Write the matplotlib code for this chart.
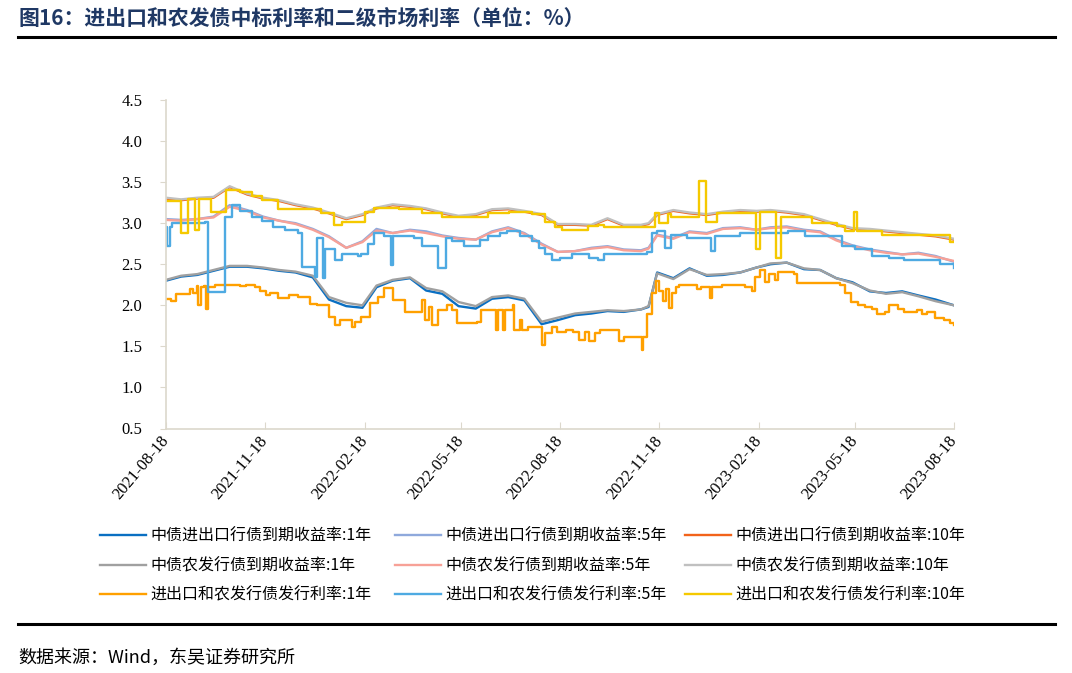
import matplotlib
matplotlib.use('Agg')
import matplotlib.pyplot as plt
import matplotlib.dates as mdates
from matplotlib.lines import Line2D
import pandas as pd

# 二级市场收益率（半月取点）
dates_mkt = ['2021-08-18', '2021-09-01', '2021-09-16', '2021-10-01', '2021-10-16', '2021-11-01',
             '2021-11-16', '2021-12-01', '2021-12-16', '2022-01-01', '2022-01-16', '2022-02-01',
             '2022-02-16', '2022-03-01', '2022-03-16', '2022-04-01', '2022-04-16', '2022-05-01',
             '2022-05-16', '2022-06-01', '2022-06-16', '2022-07-01', '2022-07-16', '2022-08-01',
             '2022-08-16', '2022-09-01', '2022-09-16', '2022-10-01', '2022-10-16', '2022-11-01',
             '2022-11-08', '2022-11-16', '2022-12-01', '2022-12-16', '2023-01-01', '2023-01-16',
             '2023-02-01', '2023-02-16', '2023-03-01', '2023-03-16', '2023-04-01', '2023-04-16',
             '2023-05-01', '2023-05-16', '2023-06-01', '2023-06-16', '2023-07-01', '2023-07-16',
             '2023-08-01', '2023-08-18']

exim_1y = [2.30, 2.35, 2.37, 2.42, 2.47, 2.47, 2.45, 2.42, 2.40, 2.34, 2.07, 1.99, 1.97, 2.22, 2.30,
           2.33, 2.18, 2.14, 1.99, 1.96, 2.08, 2.10, 2.06, 1.77, 1.82, 1.88, 1.90, 1.93, 1.92, 1.95,
           1.98, 2.40, 2.33, 2.45, 2.36, 2.37, 2.40, 2.46, 2.50, 2.52, 2.44, 2.43, 2.33, 2.28, 2.17,
           2.15, 2.17, 2.12, 2.07, 2.00]
exim_5y = [3.05, 3.04, 3.05, 3.08, 3.22, 3.16, 3.08, 3.03, 3.00, 2.93, 2.84, 2.70, 2.78, 2.93, 2.88,
           2.92, 2.90, 2.85, 2.82, 2.80, 2.90, 2.95, 2.88, 2.75, 2.65, 2.66, 2.70, 2.72, 2.68, 2.67,
           2.70, 2.86, 2.82, 2.90, 2.88, 2.94, 2.95, 2.92, 2.95, 2.96, 2.92, 2.90, 2.80, 2.73, 2.68,
           2.65, 2.62, 2.64, 2.60, 2.53]
exim_10y = [3.30, 3.28, 3.30, 3.31, 3.44, 3.35, 3.30, 3.27, 3.22, 3.18, 3.12, 3.05, 3.10, 3.18, 3.22,
            3.20, 3.17, 3.12, 3.08, 3.10, 3.16, 3.17, 3.14, 3.10, 2.98, 2.98, 2.97, 3.05, 2.97, 2.97,
            2.99, 3.10, 3.15, 3.12, 3.10, 3.13, 3.15, 3.14, 3.15, 3.13, 3.10, 3.04, 2.98, 2.93, 2.92,
            2.90, 2.88, 2.86, 2.84, 2.80]
adbc_1y = [2.31, 2.36, 2.38, 2.43, 2.48, 2.48, 2.46, 2.43, 2.41, 2.36, 2.10, 2.03, 2.00, 2.24, 2.31,
           2.34, 2.21, 2.17, 2.04, 1.99, 2.10, 2.12, 2.08, 1.80, 1.85, 1.90, 1.92, 1.94, 1.93, 1.95,
           1.99, 2.39, 2.32, 2.44, 2.37, 2.38, 2.40, 2.46, 2.51, 2.52, 2.45, 2.43, 2.33, 2.27, 2.18,
           2.14, 2.16, 2.11, 2.05, 2.00]
adbc_5y = [3.04, 3.03, 3.05, 3.07, 3.20, 3.15, 3.07, 3.03, 2.99, 2.92, 2.83, 2.70, 2.77, 2.91, 2.88,
           2.91, 2.88, 2.84, 2.81, 2.80, 2.89, 2.94, 2.87, 2.74, 2.65, 2.66, 2.69, 2.71, 2.67, 2.66,
           2.69, 2.85, 2.81, 2.89, 2.87, 2.93, 2.94, 2.92, 2.94, 2.95, 2.91, 2.89, 2.79, 2.72, 2.67,
           2.64, 2.62, 2.63, 2.59, 2.54]
adbc_10y = [3.31, 3.29, 3.31, 3.32, 3.45, 3.36, 3.31, 3.28, 3.23, 3.19, 3.13, 3.06, 3.11, 3.19, 3.23,
            3.21, 3.18, 3.13, 3.09, 3.11, 3.17, 3.18, 3.15, 3.11, 2.99, 2.99, 2.98, 3.06, 2.98, 2.98,
            3.00, 3.11, 3.16, 3.13, 3.11, 3.14, 3.16, 3.15, 3.16, 3.14, 3.11, 3.05, 2.99, 2.94, 2.93,
            2.91, 2.89, 2.87, 2.85, 2.81]

# 发行利率（阶梯）
dates_iss1 = ['2021-08-18', '2021-08-23', '2021-08-27', '2021-09-09', '2021-09-12', '2021-09-16',
              '2021-09-17', '2021-09-19', '2021-09-22', '2021-09-24', '2021-09-26', '2021-10-02',
              '2021-10-26', '2021-10-31', '2021-11-08', '2021-11-13', '2021-11-19', '2021-11-22',
              '2021-11-30', '2021-12-10', '2021-12-18', '2021-12-29', '2022-01-05', '2022-01-16',
              '2022-01-22', '2022-01-26', '2022-02-06', '2022-02-09', '2022-02-15', '2022-02-23',
              '2022-03-02', '2022-03-08', '2022-03-16', '2022-03-27', '2022-04-12', '2022-04-15',
              '2022-04-19', '2022-04-21', '2022-04-27', '2022-05-05', '2022-05-10', '2022-05-15',
              '2022-06-02', '2022-06-06', '2022-06-20', '2022-06-22', '2022-06-26', '2022-06-28',
              '2022-07-05', '2022-07-06', '2022-07-12', '2022-07-14', '2022-07-19', '2022-08-01',
              '2022-08-04', '2022-08-11', '2022-08-15', '2022-08-24', '2022-08-30', '2022-09-05',
              '2022-09-10', '2022-09-14', '2022-09-19', '2022-09-24', '2022-10-12', '2022-10-16',
              '2022-11-02', '2022-11-03', '2022-11-07', '2022-11-11', '2022-11-15', '2022-11-18',
              '2022-11-21', '2022-11-24', '2022-11-27', '2022-11-30', '2022-12-03', '2022-12-06',
              '2022-12-23', '2022-12-27', '2023-01-04', '2023-01-06', '2023-01-15', '2023-02-05',
              '2023-02-12', '2023-02-15', '2023-02-19', '2023-02-24', '2023-02-28', '2023-03-05',
              '2023-03-08', '2023-03-23', '2023-03-26', '2023-05-04', '2023-05-09', '2023-05-15',
              '2023-05-21', '2023-05-28', '2023-06-03', '2023-06-08', '2023-06-15', '2023-06-19',
              '2023-06-27', '2023-07-03', '2023-07-15', '2023-07-19', '2023-07-24', '2023-07-31',
              '2023-08-09', '2023-08-14', '2023-08-18']
iss_1y = [2.08, 2.05, 2.14, 2.20, 2.15, 2.24,
          2.00, 2.22, 2.24, 1.95, 2.22, 2.25,
          2.23, 2.25, 2.22, 2.17, 2.13, 2.15,
          2.09, 2.12, 2.10, 2.02, 2.00, 1.86,
          1.76, 1.82, 1.74, 1.80, 1.86, 2.03,
          2.10, 2.21, 2.06, 1.92, 2.06, 1.82,
          1.98, 1.76, 1.94, 2.00, 1.94, 1.78,
          1.80, 1.94, 1.70, 1.94, 1.70, 1.94,
          2.00, 1.70, 1.82, 1.70, 1.74, 1.52,
          1.66, 1.74, 1.67, 1.70, 1.67, 1.58,
          1.67, 1.56, 1.66, 1.70, 1.56, 1.62,
          1.45, 1.62, 1.90, 2.15, 2.30, 2.18,
          2.05, 2.20, 1.97, 2.15, 2.22, 2.25,
          2.20, 2.22, 2.09, 2.22, 2.25, 2.22,
          2.17, 2.35, 2.43, 2.28, 2.38, 2.31,
          2.41, 2.38, 2.27, 2.25, 2.15, 2.04,
          2.00, 1.98, 1.95, 1.90, 1.92, 2.00,
          1.96, 1.92, 1.94, 1.90, 1.92, 1.84,
          1.82, 1.78, 1.76]

dates_iss5 = ['2021-08-18', '2021-08-19', '2021-08-22', '2021-08-24', '2021-09-23', '2021-09-26',
              '2021-10-10', '2021-10-12', '2021-10-18', '2021-10-26', '2021-11-06', '2021-11-15',
              '2021-11-25', '2021-12-06', '2021-12-18', '2021-12-22', '2022-01-03', '2022-01-05',
              '2022-01-10', '2022-01-12', '2022-01-22', '2022-01-28', '2022-02-12', '2022-02-15',
              '2022-02-21', '2022-02-27', '2022-03-08', '2022-03-14', '2022-03-16', '2022-04-05',
              '2022-04-12', '2022-04-27', '2022-05-04', '2022-05-10', '2022-05-21', '2022-06-05',
              '2022-06-12', '2022-06-23', '2022-06-30', '2022-07-12', '2022-07-23', '2022-07-30',
              '2022-08-04', '2022-08-11', '2022-08-18', '2022-08-29', '2022-09-14', '2022-09-22',
              '2022-09-28', '2022-10-31', '2022-11-07', '2022-11-11', '2022-11-16', '2022-11-23',
              '2022-11-29', '2022-12-14', '2023-01-02', '2023-01-05', '2023-01-09', '2023-02-01',
              '2023-03-17', '2023-04-02', '2023-04-30', '2023-05-06', '2023-05-18', '2023-06-03',
              '2023-06-19', '2023-07-03', '2023-07-24', '2023-08-05', '2023-08-18']
iss_5y = [2.95, 2.72, 2.95, 3.00, 3.02, 2.16, 2.16, 3.08, 3.22, 3.15, 3.08, 3.03,
          2.95, 2.92, 2.88, 2.47, 2.35, 2.82, 2.33, 2.68, 2.55, 2.62, 2.60, 2.62,
          2.75, 2.88, 2.84, 2.49, 2.84, 2.82, 2.72, 2.45, 2.82, 2.78, 2.72, 2.80,
          2.84, 2.88, 2.90, 2.85, 2.78, 2.70, 2.62, 2.55, 2.58, 2.62, 2.58, 2.55,
          2.62, 2.62, 2.65, 2.88, 2.90, 2.70, 2.86, 2.82, 2.82, 2.66, 2.84, 2.88,
          2.90, 2.84, 2.84, 2.72, 2.68, 2.60, 2.58, 2.55, 2.55, 2.50, 2.46]

dates_iss10 = ['2021-08-18', '2021-09-01', '2021-09-07', '2021-09-14', '2021-09-18', '2021-09-29',
               '2021-10-13', '2021-10-26', '2021-11-06', '2021-11-15', '2021-11-30', '2022-01-09',
               '2022-01-21', '2022-01-28', '2022-02-18', '2022-02-27', '2022-03-22', '2022-04-12',
               '2022-05-01', '2022-05-25', '2022-06-12', '2022-07-02', '2022-07-23', '2022-08-04',
               '2022-08-13', '2022-08-20', '2022-09-13', '2022-09-22', '2022-09-28', '2022-11-14',
               '2022-11-18', '2022-11-26', '2022-11-29', '2022-12-25', '2022-12-31', '2023-01-10',
               '2023-02-16', '2023-02-19', '2023-03-06', '2023-03-11', '2023-04-08', '2023-05-02',
               '2023-05-09', '2023-05-17', '2023-05-20', '2023-06-12', '2023-08-12', '2023-08-14',
               '2023-08-18']
iss_10y = [3.27, 2.88, 3.29, 2.92, 3.29, 3.14, 3.40, 3.38, 3.33, 3.28, 3.17, 3.13,
           2.98, 3.02, 3.14, 3.19, 3.17, 3.13, 3.08, 3.07, 3.13, 3.14, 3.11, 3.02,
           2.95, 2.92, 2.96, 2.98, 2.95, 3.13, 3.00, 3.11, 3.07, 3.51, 3.02, 3.13,
           2.68, 3.14, 2.58, 3.08, 3.00, 2.96, 2.90, 3.14, 2.90, 2.86, 2.86, 2.77,
           2.77]

labels = ['中债进出口行债到期收益率:1年', '中债进出口行债到期收益率:5年', '中债进出口行债到期收益率:10年',
          '中债农发行债到期收益率:1年', '中债农发行债到期收益率:5年', '中债农发行债到期收益率:10年',
          '进出口和农发行债发行利率:1年', '进出口和农发行债发行利率:5年', '进出口和农发行债发行利率:10年']
colors = ['#0a6fc2', '#8fa9dc', '#f2631a', '#a0a0a0', '#f7a197', '#c0c0c0', '#ffa000', '#4eaae2', '#f5c900']
xticks = ['2021-08-18', '2021-11-18', '2022-02-18', '2022-05-18', '2022-08-18',
          '2022-11-18', '2023-02-18', '2023-05-18', '2023-08-18']

cjk = ['Noto Sans CJK SC', 'DejaVu Sans']
num_font = 'Liberation Serif'

fig = plt.figure(figsize=(10.72, 6.73), dpi=100)
ax = fig.add_axes([166 / 1072, 1 - 428.5 / 673, (954 - 166) / 1072, (428.5 - 100) / 673])

dm = pd.to_datetime(dates_mkt)
series = [(dm, exim_1y, None), (dm, exim_5y, None), (dm, exim_10y, None),
          (dm, adbc_1y, None), (dm, adbc_5y, None), (dm, adbc_10y, None),
          (pd.to_datetime(dates_iss1), iss_1y, 'steps-post'),
          (pd.to_datetime(dates_iss5), iss_5y, 'steps-post'),
          (pd.to_datetime(dates_iss10), iss_10y, 'steps-post')]
handles = []
for (d, v, ds), lab, c in zip(series, labels, colors):
    if ds:
        h, = ax.plot(d, v, color=c, lw=1.7, drawstyle=ds, label=lab)
    else:
        h, = ax.plot(d, v, color=c, lw=1.7, label=lab)
    handles.append(h)

ax.set_ylim(0.5, 4.5)
ax.set_yticks([0.5, 1.0, 1.5, 2.0, 2.5, 3.0, 3.5, 4.0, 4.5])
ax.yaxis.set_major_formatter(plt.FormatStrFormatter('%.1f'))
xt = pd.to_datetime(xticks)
ax.set_xlim(xt[0], xt[-1])
ax.set_xticks(xt)
ax.xaxis.set_major_formatter(mdates.DateFormatter('%Y-%m-%d'))

axis_c = '#dcd8cc'
for s in ['top', 'right']:
    ax.spines[s].set_visible(False)
for s in ['left', 'bottom']:
    ax.spines[s].set_color(axis_c)
    ax.spines[s].set_linewidth(1.2)
ax.tick_params(axis='y', direction='out', length=4, color=axis_c, pad=13, labelsize=12)
ax.tick_params(axis='x', direction='in', length=5, color=axis_c, pad=7, labelsize=12)
for t in ax.get_yticklabels():
    t.set_fontfamily(num_font)
for t in ax.get_xticklabels():
    t.set_fontfamily(num_font)
    t.set_rotation(50)
    t.set_ha('right')
    t.set_va('center')
    t.set_rotation_mode('anchor')

# 三列图例
col_x = [100 / 1072, 395 / 1072, 685 / 1072]
for i in range(3):
    hs = [handles[i], handles[i + 3], handles[i + 6]]
    fig.legend(handles=hs, labels=[h.get_label() for h in hs], loc='upper left',
               bbox_to_anchor=(col_x[i], 1 - 528 / 673), frameon=False, borderpad=0,
               borderaxespad=0, handlelength=2.9, handletextpad=0.25, labelspacing=0.78,
               prop={'family': cjk, 'size': 11.5})

fig.text(18 / 1072, 1 - 18 / 673, '图16：进出口和农发债中标利率和二级市场利率（单位：%）',
         fontsize=15, fontweight='bold', color='#1f3864', family=cjk, va='center')
fig.add_artist(Line2D([18 / 1072, 1055 / 1072], [1 - 37 / 673, 1 - 37 / 673],
                      color='black', lw=2.2, transform=fig.transFigure))
fig.add_artist(Line2D([18 / 1072, 1055 / 1072], [1 - 624 / 673, 1 - 624 / 673],
                      color='black', lw=2.2, transform=fig.transFigure))
fig.text(18 / 1072, 1 - 658 / 673, '数据来源：Wind，东吴证券研究所', fontsize=13,
         family=cjk, va='center')

fig.savefig('out.png', dpi=100)
